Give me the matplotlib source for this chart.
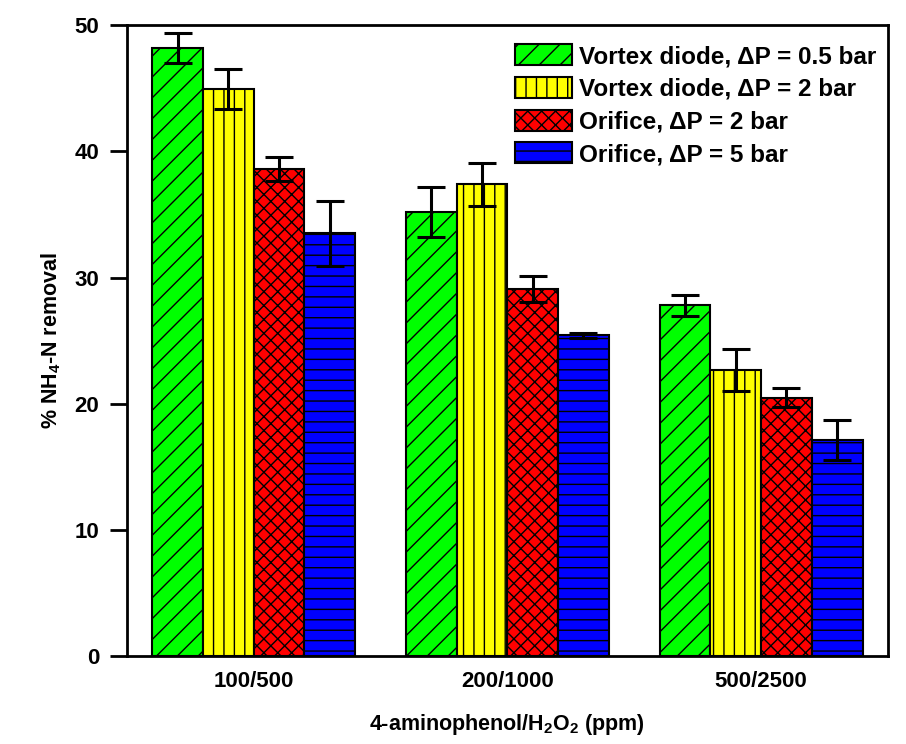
import numpy as np
import matplotlib
matplotlib.use('Agg')
import matplotlib.pyplot as plt

# rendered at dpi 125 so the hatch spacing comes out closer to the original;
# all sizes below are given in "100 dpi points" and scaled by S
DPI = 125
S = 100.0 / DPI

plt.rcParams['font.family'] = ['Liberation Sans', 'DejaVu Sans']
plt.rcParams['font.weight'] = 'bold'
plt.rcParams['mathtext.default'] = 'bf'
plt.rcParams['mathtext.fontset'] = 'custom'
plt.rcParams['mathtext.bf'] = 'Liberation Sans:bold'
plt.rcParams['hatch.linewidth'] = 1.0 * S

# data
groups = ['100/500', '200/1000', '500/2500']
labels = ['Vortex diode, \u0394P = 0.5 bar', 'Vortex diode, \u0394P = 2 bar',
          'Orifice, \u0394P = 2 bar', 'Orifice, \u0394P = 5 bar']
vd_05 = [48.2, 35.2, 27.8]
vd_05_err = [1.2, 2.0, 0.85]
vd_2 = [44.95, 37.4, 22.7]
vd_2_err = [1.55, 1.7, 1.65]
or_2 = [38.6, 29.1, 20.5]
or_2_err = [0.95, 1.0, 0.75]
or_5 = [33.5, 25.45, 17.15]
or_5_err = [2.55, 0.2, 1.6]

series = [vd_05, vd_2, or_2, or_5]
errs = [vd_05_err, vd_2_err, or_2_err, or_5_err]
colors = ['#00FF00', '#FFFF00', '#FF0000', '#0000FF']
hatches = ['//', '||', 'xxx', '--']

fig = plt.figure(figsize=(906 / DPI, 744 / DPI), dpi=DPI)
ax = fig.add_axes([0.140, 0.118, 0.840, 0.848])

x = np.arange(len(groups))
w = 0.2
for i in range(4):
    pos = x + (i - 1.5) * w
    ax.bar(pos, series[i], w, color=colors[i], edgecolor='black', linewidth=1.5 * S,
           hatch=hatches[i], label=labels[i], zorder=2)
    ax.errorbar(pos, series[i], yerr=errs[i], fmt='none', ecolor='black',
                elinewidth=2.2 * S, capsize=10 * S, capthick=2.2 * S, zorder=3)

ax.set_xlim(-0.5, 2.5)
ax.set_ylim(0, 50)
ax.set_xticks(x)
ax.set_xticklabels(groups, fontsize=16 * S, fontweight='bold')
ax.set_yticks([0, 10, 20, 30, 40, 50])
ax.tick_params(axis='y', direction='out', length=12 * S, width=2 * S,
               labelsize=16 * S, pad=8 * S)
ax.tick_params(axis='x', length=0, pad=11 * S)
for s in ax.spines.values():
    s.set_linewidth(2 * S)

ax.set_ylabel('% NH$_4$-N removal', fontsize=15.5 * S, fontweight='bold',
              labelpad=8 * S)
ax.set_xlabel('4-aminophenol/H$_2$O$_2$ (ppm)', fontsize=15.5 * S,
              fontweight='bold', labelpad=14 * S)

leg = ax.legend(loc='upper right', bbox_to_anchor=(0.998, 0.985), frameon=False,
                prop={'size': 17.5 * S, 'weight': 'bold'},
                handlelength=2.35, handleheight=0.95, handletextpad=0.3,
                labelspacing=0.36, borderpad=0.1, borderaxespad=0.3)

fig.savefig('out.png', dpi=DPI)
